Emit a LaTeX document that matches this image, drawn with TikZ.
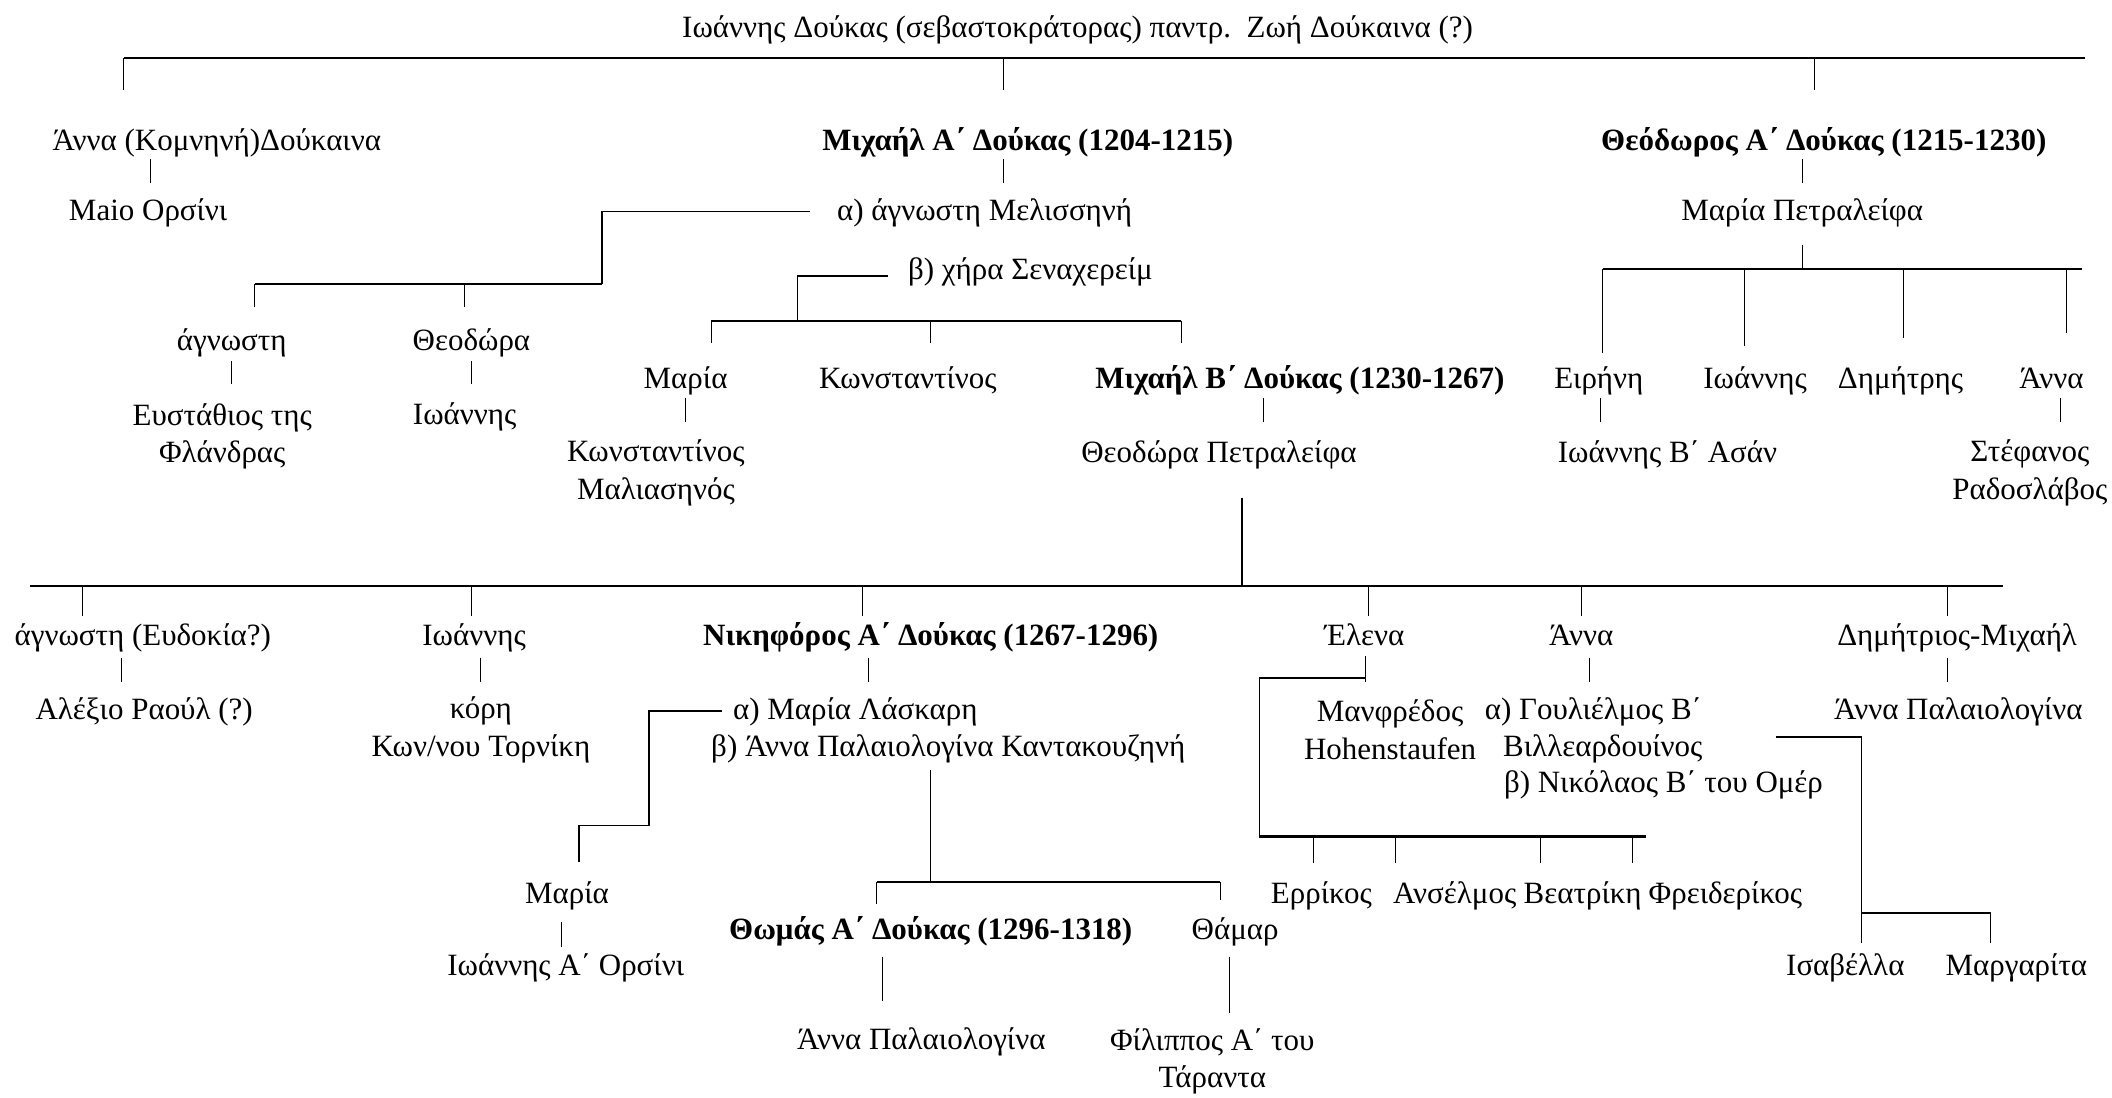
\documentclass[tikz,border=0pt]{standalone}
\usepackage{fontspec}
\setmainfont{Liberation Serif}

\begin{document}
\begin{tikzpicture}[x=1pt, y=-1pt,
  person/.style={font=\fontsize{23}{28}\selectfont, inner sep=0pt, text height=17pt, text depth=6pt},
  ruler/.style={person, font=\fontsize{23}{28}\selectfont\bfseries},
  pair/.style={font=\fontsize{23}{28}\selectfont, inner sep=0pt, align=center},
  famline/.style={line width=1.6pt},
  elbow/.style={line width=1.1pt},
  stub/.style={line width=0.8pt}]
      \useasboundingbox (0,0) rectangle (1568,815);

      \node[person] (title) at (800,22) {Ιωάννης Δούκας (σεβαστοκράτορας) παντρ.\ \ Ζωή Δούκαινα (?)};

      % first generation
      \node[person] (anna1)  at (161,106)  {Άννα (Κομνηνή)Δούκαινα};
      \node[ruler]  (michA)  at (763,106)  {Μιχαήλ Α΄ Δούκας (1204-1215)};
      \node[ruler]  (theoA)  at (1354,106) {Θεόδωρος Α΄ Δούκας (1215-1230)};
      \node[person] (maio)   at (110,158)  {Maio Ορσίνι};
      \node[person] (meliss) at (731,158)  {α) άγνωστη Μελισσηνή};
      \node[person] (mariaP) at (1338,158) {Μαρία Πετραλείφα};
      \node[person] (chira)  at (765,202)  {β) χήρα Σεναχερείμ};

      % second generation
      \node[person] (agn1)      at (172,255)  {άγνωστη};
      \node[person] (theodora1) at (350,255)  {Θεοδώρα};
      \node[pair]   (eust)      at (165,324)  {Ευστάθιος της\\Φλάνδρας};
      \node[person] (ioannis1)  at (345,310)  {Ιωάννης};
      \node[person] (maria1)    at (509,283)  {Μαρία};
      \node[person] (konst1)    at (674,283)  {Κωνσταντίνος};
      \node[ruler]  (michB)     at (965,283)  {Μιχαήλ Β΄ Δούκας (1230-1267)};
      \node[person] (eirini)    at (1187,283) {Ειρήνη};
      \node[person] (ioannis2)  at (1303,283) {Ιωάννης};
      \node[person] (dimitris)  at (1411,283) {Δημήτρης};
      \node[person] (anna2)     at (1523,283) {Άννα};
      \node[pair]   (malias)    at (487,351)  {Κωνσταντίνος\\Μαλιασηνός};
      \node[person] (theodP)    at (905,338)  {Θεοδώρα Πετραλείφα};
      \node[person] (asan)      at (1238,338) {Ιωάννης Β΄ Ασάν};
      \node[pair]   (stef)      at (1507,351) {Στέφανος\\Ραδοσλάβος};

      % third generation
      \node[person] (agn2)     at (106,474)  {άγνωστη (Ευδοκία?)};
      \node[person] (ioannis3) at (352,474)  {Ιωάννης};
      \node[ruler]  (nikif)    at (691,474)  {Νικηφόρος Α΄ Δούκας (1267-1296)};
      \node[person] (elena)    at (1013,474) {Έλενα};
      \node[person] (anna3)    at (1174,474) {Άννα};
      \node[person] (dimMich)  at (1453,474) {Δημήτριος-Μιχαήλ};
      \node[person] (alexio)   at (107,529)  {Αλέξιο Ραούλ (?)};
      \node[pair]   (kori)     at (357,542)  {κόρη\\Κων/νου Τορνίκη};
      \node[person] (laskari)  at (635,529)  {α) Μαρία Λάσκαρη};
      \node[person] (kantak)   at (704,556)  {β) Άννα Παλαιολογίνα Καντακουζηνή};
      \node[pair]   (manfr)    at (1032,542) {Μανφρέδος\\Hohenstaufen};
      \node[person] (gouli)    at (1183,529) {α) Γουλιέλμος Β΄};
      \node[person] (villear)  at (1190,556) {Βιλλεαρδουίνος};
      \node[person] (nikol)    at (1235,583) {β) Νικόλαος Β΄ του Ομέρ};
      \node[person] (annaPal1) at (1454,529) {Άννα Παλαιολογίνα};

      % fourth generation
      \node[person] (maria2)     at (421,665)  {Μαρία};
      \node[person] (errikos)    at (981,665)  {Ερρίκος};
      \node[person] (anselm)     at (1080,665) {Ανσέλμος};
      \node[person] (beatr)      at (1175,665) {Βεατρίκη};
      \node[person] (freid)      at (1281,665) {Φρειδερίκος};
      \node[ruler]  (thomas)     at (691,692)  {Θωμάς Α΄ Δούκας (1296-1318)};
      \node[person] (thamar)     at (917,692)  {Θάμαρ};
      \node[person] (ioannisOrs) at (420,719)  {Ιωάννης Α΄ Ορσίνι};
      \node[person] (isab)       at (1370,719) {Ισαβέλλα};
      \node[person] (marg)       at (1497,719) {Μαργαρίτα};
      \node[person] (annaPal2)   at (684,774)  {Άννα Παλαιολογίνα};
      \node[pair]   (filip)      at (900,788)  {Φίλιππος Α΄ του\\Τάραντα};

      % junctions
      \coordinate (topL) at (92,43);
      \coordinate (topR) at (1548,43);
      \coordinate (mA) at (447,211);
      \coordinate (mL) at (189,211);
      \coordinate (cA) at (592,238);
      \coordinate (cL) at (528,238);
      \coordinate (cR) at (877,238);
      \coordinate (tL) at (1190,200);
      \coordinate (tR) at (1546,200);
      \coordinate (gL) at (22,435);
      \coordinate (gR) at (1487,435);
      \coordinate (lA) at (482,613);
      \coordinate (lB) at (430,640);
      \coordinate (eA) at (935,621);
      \coordinate (eR) at (1222,621);
      \coordinate (kL) at (651,655);
      \coordinate (kR) at (906,655);
      \coordinate (vA) at (1382,678);
      \coordinate (vB) at (1382,700);
      \coordinate (vR) at (1478,678);

      % children of the sebastokrator
      \draw[famline] (topL) -- (topR);
      \foreach \n/\s in {anna1/-69, michA/-18, theoA/-7}
        \draw[stub] (topL -| \n) ++(\s,0) -- ++(0,24);

      % spouses
      \foreach \n/\s/\d/\l in {anna1/-49/0.5/18, michA/-18/0.5/18, theoA/-16/0.5/18,
          agn1/0/1.5/17, theodora1/0/1.5/17, maria1/0/0.5/18, michB/-27/0.5/18,
          eirini/1/0.5/18, anna2/7/0.5/18, agn2/-16/2.5/18, ioannis3/5/2.5/18,
          nikif/-46/2.5/18, anna3/6/2.5/18, dimMich/-7/2.5/18,
          maria2/-4/7.5/19, thomas/-36/6.5/33, thamar/-4/6.5/42}
        \draw[stub] (\n.south) ++(\s,\d) -- ++(0,\l);

      % Michael I
      \draw[elbow] (meliss.west) ++(-20,-1) -| (mA);
      \draw[famline] (mA) -- (mL);
      \foreach \n/\s in {agn1/17, theodora1/-5}
        \draw[stub] (mA -| \n) ++(\s,0) -- ++(0,17);
      \draw[elbow] (chira.west) ++(-15,3) -| (cA);
      \draw[famline] (cL) -- (cR);
      \foreach \n/\s in {maria1/19, konst1/17, michB/-88}
        \draw[stub] (cL -| \n) ++(\s,0) -- ++(0,17);

      % Theodore I
      \draw[stub] (mariaP.south) ++(0,12) -- (tL -| mariaP);
      \draw[famline] (tL) -- (tR);
      \foreach \n/\s/\l in {eirini/3/62, ioannis2/-8/57, dimitris/2/51, anna2/11/47}
        \draw[stub] (tL -| \n) ++(\s,0) -- ++(0,\l);

      % Michael II
      \draw[elbow] (gL -| theodP) ++(17,0) -- ++(0,-65);
      \draw[famline] (gL) -- (gR);
      \foreach \n/\s in {agn2/-45, ioannis3/-2, nikif/-51, elena/3, anna3/0, dimMich/-7}
        \draw[stub] (gL -| \n) ++(\s,0) -- ++(0,22);

      % Nikephoros I
      \draw[elbow] (laskari.west) ++(-8,-1) -| (lA) -| (lB);
      \draw[elbow] (kL -| kantak) ++(-13,0) -- ++(0,-83);
      \draw[famline] (kL) -- (kR);
      \foreach \n/\s/\l in {thomas/-40/16, thamar/-11/13}
        \draw[stub] (kL -| \n) ++(\s,0) -- ++(0,\l);

      % Helena
      \draw[stub] (elena.south) ++(1,1.5) -- ++(0,19);
      \draw[elbow] (elena.south) ++(1,17.5) -| (eA);
      \draw[famline] (eA) -- (eR);
      \foreach \n/\s in {errikos/-6, anselm/-44, beatr/-31, freid/-69}
        \draw[stub] (eA -| \n) ++(\s,0) -- ++(0,20);

      % Anna
      \draw[elbow] (villear.east) ++(54,-9) -| (vB);
      \draw[famline] (vA) -- (vR);
      \draw[stub] (vR) -- ++(0,22);
\end{tikzpicture}
\end{document}
